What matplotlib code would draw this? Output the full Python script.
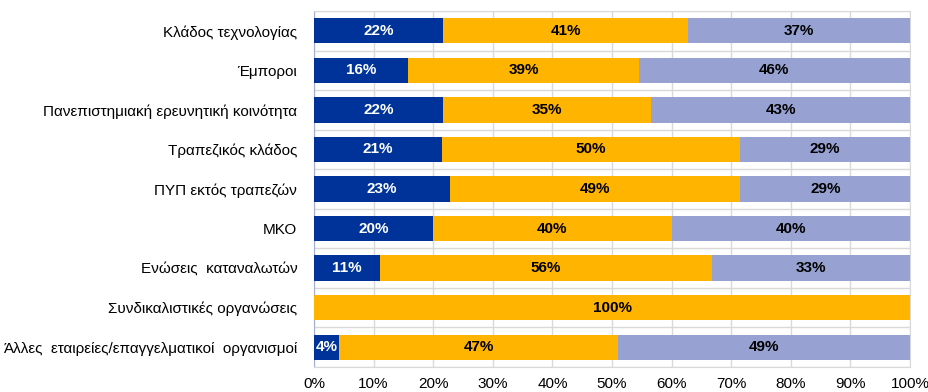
import numpy as np
import matplotlib.pyplot as plt
from matplotlib.ticker import FuncFormatter, MultipleLocator

plt.rcParams['font.family'] = ['Liberation Sans', 'DejaVu Sans']

# Κατηγορίες φορέων (από πάνω προς τα κάτω)
kathgories = [
    'Κλάδος τεχνολογίας',
    'Έμποροι',
    'Πανεπιστημιακή ερευνητική κοινότητα',
    'Τραπεζικός κλάδος',
    'ΠΥΠ εκτός τραπεζών',
    'ΜΚΟ',
    'Ενώσεις  καταναλωτών',
    'Συνδικαλιστικές οργανώσεις',
    'Άλλες  εταιρείες/επαγγελματικοί  οργανισμοί',
]

# Ποσοστά ανά απάντηση (%)
seira_a = [21.7, 15.8, 21.7, 21.4, 22.9, 20.0, 11.1, 0.0, 4.2]
seira_b = [41.0, 38.7, 34.9, 50.0, 48.6, 40.0, 55.6, 100.0, 46.8]
seira_c = [37.3, 45.5, 43.4, 28.6, 28.6, 40.0, 33.3, 0.0, 49.0]

xrwmata = ['#003399', '#FFB400', '#97A2D2']
xrwmata_keimenou = ['white', 'black', 'black']

fig = plt.figure(figsize=(9.29, 3.92), dpi=100)
ax = fig.add_axes([314 / 929, 1 - 367 / 392, (910 - 314) / 929, (367 - 11) / 392])

y = np.arange(len(kathgories))
aristera = np.zeros(len(kathgories))
for timi, xr, xk in zip([seira_a, seira_b, seira_c], xrwmata, xrwmata_keimenou):
    timi = np.array(timi)
    ax.barh(y, timi, left=aristera, height=0.64, color=xr, zorder=3)
    for yi, l, v in zip(y, aristera, timi):
        if v > 0:
            ax.text(l + v / 2, yi, f'{round(v):.0f}%', ha='center', va='center',
                    color=xk, fontsize=11, fontweight='bold', zorder=4)
    aristera = aristera + timi

ax.set_xlim(0, 100)
ax.set_ylim(len(kathgories) - 0.5, -0.5)
ax.set_yticks(y)
ax.set_yticklabels(kathgories, fontsize=11)
ax.xaxis.set_major_locator(MultipleLocator(10))
ax.xaxis.set_major_formatter(FuncFormatter(lambda v, p: f'{v:.0f}%'))
ax.set_yticks(np.arange(len(kathgories) + 1) - 0.5, minor=True)
ax.tick_params(axis='x', length=0, labelsize=11, pad=7)
ax.tick_params(axis='y', which='both', length=0, pad=12)

ax.grid(axis='x', color='#D9D9D9', linewidth=1, zorder=0)
ax.grid(axis='y', which='minor', color='#D9D9D9', linewidth=1, zorder=0)
ax.grid(axis='y', which='major', visible=False)
for s in ax.spines.values():
    s.set_color('#D9D9D9')
ax.spines['left'].set_color('#A6AECF')

fig.savefig('out.png', dpi=100)
